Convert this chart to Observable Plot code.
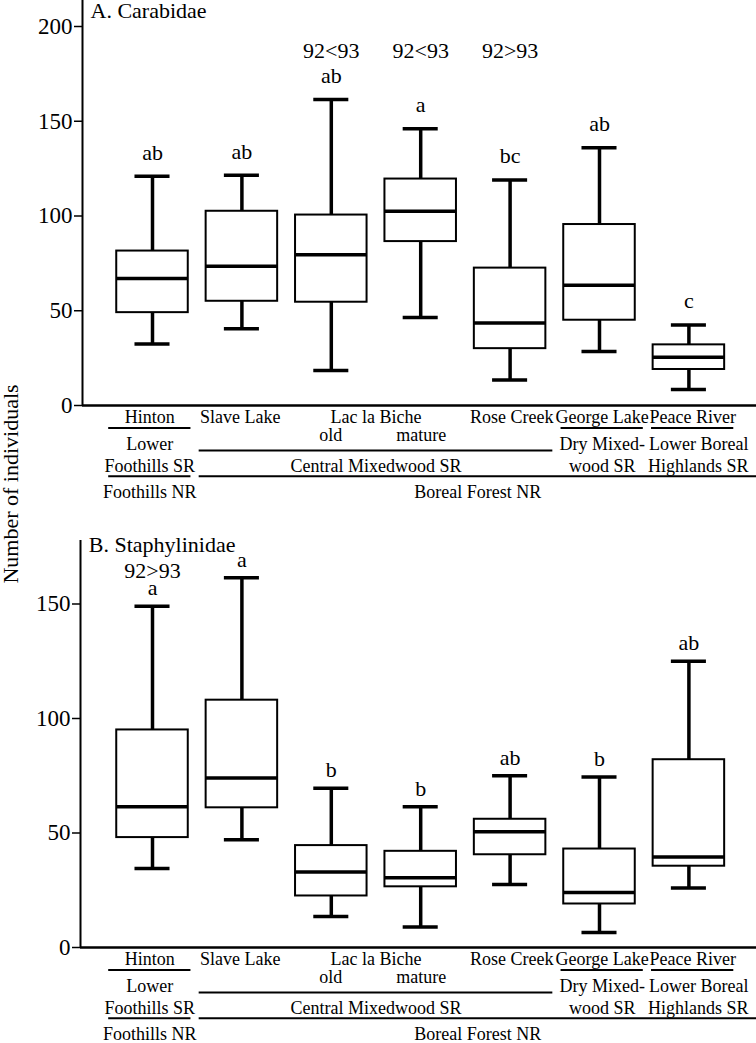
<!DOCTYPE html>
<html><head><meta charset="utf-8">
<script src="https://cdn.jsdelivr.net/npm/d3@7"></script>
<script src="https://cdn.jsdelivr.net/npm/@observablehq/plot@0.6"></script>
<style>
body{margin:0;background:#fff;}
#wrap{position:relative;width:756px;height:1043px;font-family:"Liberation Serif","Times New Roman",serif;color:#000;}
#wrap svg{display:block;}
#wrap svg, #wrap svg text, #wrap svg g{font-family:"Liberation Serif","Times New Roman",serif !important;}
#ylab{position:absolute;left:11px;top:484px;transform:translate(-50%,-50%) rotate(-90deg);font-size:22px;line-height:22px;white-space:nowrap;z-index:2;}
</style></head><body>
<div id="wrap"><div id="ylab">Number of individuals</div></div>
<script>
// Sites (x categories)
const sites = ["Hinton","Slave Lake","Lac la Biche old","Lac la Biche mature","Rose Creek","George Lake","Peace River"];

// A. Carabidae box plot values
const carMin = [32.5, 40.5, 18.5, 46.5, 13.5, 28.5, 8.5];
const carQ1  = [49, 55, 54.5, 86.5, 30, 45, 19];
const carMed = [67, 73.5, 79.5, 102.5, 43.5, 63.5, 25.5];
const carQ3  = [81.5, 102.5, 100.5, 119.5, 72.5, 95.5, 32];
const carMax = [121, 121.5, 161.5, 146, 119, 136, 42.5];
const carLetters = ["ab","ab","ab","a","bc","ab","c"];
const carCompare = ["","","92<93","92<93","92>93","",""];
const carTicks = [0,50,100,150,200];

// B. Staphylinidae box plot values
const staMin = [34.5, 47, 13.5, 9, 27.5, 6.5, 26];
const staQ1  = [48, 61, 22.5, 26.5, 40.5, 19, 35.5];
const staMed = [61.5, 74, 33, 30.5, 50.5, 24, 39.5];
const staQ3  = [95, 108, 44.5, 42, 56, 43, 82];
const staMax = [149, 161.5, 69.5, 61.5, 75, 74.5, 125];
const staLetters = ["a","a","b","b","ab","b","ab"];
const staCompare = ["92>93","","","","","",""];
const staTicks = [0,50,100,150];

// Category annotation rows
const siteLabels = ["Hinton","Slave Lake","Lac la Biche","Rose Creek","George Lake","Peace River"];
const siteLabelSites = [["Hinton"],["Slave Lake"],["Lac la Biche old","Lac la Biche mature"],["Rose Creek"],["George Lake"],["Peace River"]];
const ageLabels = ["old","mature"];
const ageLabelSites = ["Lac la Biche old","Lac la Biche mature"];
const subregions = ["Lower\nFoothills SR","Central Mixedwood SR","Dry Mixed-\nwood SR","Lower Boreal\nHighlands SR"];
const subregionSpans = [["Hinton","Hinton"],["Slave Lake","Rose Creek"],["George Lake","George Lake"],["Peace River","Peace River"]];
const regions = ["Foothills NR","Boreal Forest NR"];
const regionSpans = [["Hinton","Hinton"],["Slave Lake","Peace River"]];

const FONT = '"Liberation Serif", "Times New Roman", serif';
const W = 756, C0 = 152, STEP = 89.4;
const BOX = 0.40, CAP = 0.196, HALF = 0.46;
const idx = s => sites.indexOf(s);
// annotation columns are spread slightly wider than the box columns
const ax = s => idx(s) * 1.012 - 0.03;

function panel(o) {
  const data = sites.map((s,i)=>({site:s,i,min:o.min[i],q1:o.q1[i],med:o.med[i],q3:o.q3[i],max:o.max[i],letter:o.letters[i],cmp:o.compare[i]}));
  const xDom = [(o.marginLeft - C0)/STEP, (W - C0)/STEP];
  const last = sites[sites.length-1];
  const siteRow = siteLabels.map((t,k)=>({t, x: d3.mean(siteLabelSites[k], ax)}));
  const ageRow = ageLabels.map((t,k)=>({t, x: ax(ageLabelSites[k])}));
  const subRow = subregions.map((t,k)=>{
    const [s0, s1] = subregionSpans[k];
    const a = ax(s0), b = ax(s1);
    const low = idx(s0) < 2 && idx(s1) > 3;
    return {t, x1:a-HALF, x2:b+HALF, x:(a+b)/2, low, atEnd: s1 === last};
  });
  const regRow = regions.map((t,k)=>{
    const [s0, s1] = regionSpans[k];
    const x1 = ax(s0)-HALF;
    const x2 = s1 === last ? xDom[1] : ax(s1)+HALF;
    return {t, x1, x2, x:(x1+x2)/2};
  });
  const T = {fontFamily: FONT};
  return Plot.plot({
    width: W, height: o.height, marginTop: o.marginTop, marginBottom: o.marginBottom,
    marginLeft: o.marginLeft, marginRight: 0,
    x: {type:"linear", domain: xDom, axis: null},
    y: {domain: [0, o.yTop], axis: null},
    style: {fontFamily: FONT, fontSize: "18px", color: "black", background: "white", overflow: "visible"},
    marks: [
      Plot.axisY({ticks: o.ticks, tickSize: 8, tickPadding: 2, fontSize: 23, fontFamily: FONT, label: null, strokeWidth: 1.5, tickFormat: d=>String(d)}),
      Plot.ruleX([xDom[0]], {strokeWidth: 2}),
      Plot.ruleY([0], {strokeWidth: 2.5}),
      Plot.ruleX(data, {x:"i", y1:"min", y2:"q1", strokeWidth: 3.5}),
      Plot.ruleX(data, {x:"i", y1:"q3", y2:"max", strokeWidth: 3.5}),
      Plot.ruleY(data, {y:"min", x1:d=>d.i-CAP, x2:d=>d.i+CAP, strokeWidth: 3.5}),
      Plot.ruleY(data, {y:"max", x1:d=>d.i-CAP, x2:d=>d.i+CAP, strokeWidth: 3.5}),
      Plot.rect(data, {x1:d=>d.i-BOX, x2:d=>d.i+BOX, y1:"q1", y2:"q3", fill:"white", stroke:"black", strokeWidth: 2}),
      Plot.ruleY(data, {y:"med", x1:d=>d.i-BOX, x2:d=>d.i+BOX, strokeWidth: 3.5}),
      Plot.text(data, {x:"i", y:"max", text:"letter", lineAnchor:"bottom", dy:o.letterDy, fontSize: 22, ...T}),
      Plot.text(data.filter(d=>d.cmp), {x:"i", text:"cmp", frameAnchor:"top", lineAnchor:"bottom", dy:o.compareDy, fontSize: 22, ...T}),
      Plot.text([o.title], {text:d=>d, frameAnchor:"top-left", textAnchor:"start", lineAnchor:"bottom", dx:o.titleDx, dy:o.titleDy, fontSize: 22, ...T}),
      // annotation rows below the axis
      Plot.text(siteRow, {x:"x", text:"t", frameAnchor:"bottom", lineAnchor:"bottom", dy:17.5, fontSize:18, ...T}),
      Plot.text(ageRow, {x:"x", text:"t", frameAnchor:"bottom", lineAnchor:"bottom", dy:35.5, fontSize:18, ...T}),
      Plot.ruleY(subRow.filter(d=>!d.low), {y:()=>0, x1:"x1", x2:"x2", dy:22.5, strokeWidth:2}),
      Plot.ruleY(subRow.filter(d=>d.low), {y:()=>0, x1:"x1", x2:"x2", dy:45, strokeWidth:2}),
      Plot.text(subRow.filter(d=>!d.atEnd), {x:"x", text:"t", frameAnchor:"bottom", lineAnchor:"bottom", dy:66, lineHeight:1.19, fontSize:18, ...T}),
      Plot.text(subRow.filter(d=>d.atEnd), {frameAnchor:"bottom-right", text:"t", textAnchor:"end", lineAnchor:"bottom", dx:-8, dy:66, lineHeight:1.19, fontSize:18, ...T}),
      Plot.ruleY(regRow, {y:()=>0, x1:"x1", x2:"x2", dy:70.7, strokeWidth:2}),
      Plot.text(regRow, {x:"x", text:"t", frameAnchor:"bottom", lineAnchor:"bottom", dy:92, fontSize:18, ...T})
    ]
  });
}

const wrap = document.getElementById("wrap");
const ylab = document.getElementById("ylab");
const A = panel({min:carMin,q1:carQ1,med:carMed,q3:carQ3,max:carMax,letters:carLetters,compare:carCompare,
  title:"A. Carabidae", ticks:carTicks, height:505, marginTop:0, marginBottom:100, marginLeft:82,
  yTop:405/1.895, letterDy:-16.5, compareDy:57.3, titleDx:8, titleDy:17.5});
const B = panel({min:staMin,q1:staQ1,med:staMed,q3:staQ3,max:staMax,letters:staLetters,compare:staCompare,
  title:"B. Staphylinidae", ticks:staTicks, height:538, marginTop:35, marginBottom:96, marginLeft:80,
  yTop:407/2.29, letterDy:-11, compareDy:37.5, titleDx:8.3, titleDy:11.7});
wrap.insertBefore(A, ylab);
wrap.insertBefore(B, ylab);
</script>
</body></html>
